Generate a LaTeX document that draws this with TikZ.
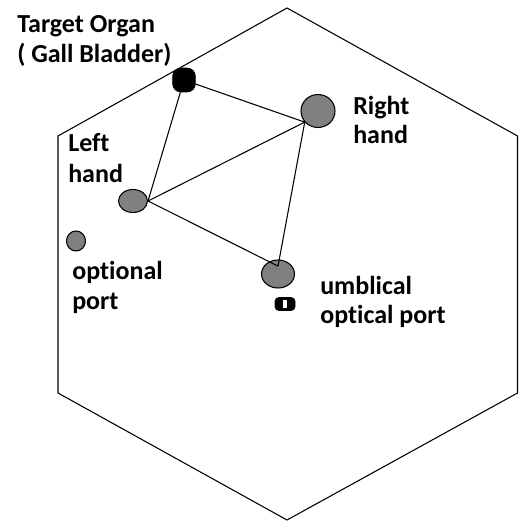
\documentclass[tikz,border=0pt]{standalone}
\usepackage{fontspec}
\setmainfont[RawFeature={-liga}]{Carlito}
\usetikzlibrary{shapes.geometric}
\definecolor{portgray}{RGB}{128,128,128}
\begin{document}
\begin{tikzpicture}[x=0.75pt,y=-0.75pt,
  port/.style={ellipse,draw=black,fill=portgray,line width=0.8pt,inner sep=0pt},
  lbl/.style={font=\fontsize{19.5}{22.5}\selectfont\bfseries,text=black,inner sep=0pt,anchor=base west},
  link/.style={line width=0.8pt,draw=black},
  wall/.style={line width=0.8pt,draw=black}]
\useasboundingbox (0,0) rectangle (519,527);
% abdomen outline
\draw[wall] (287,8) -- (517.5,136) -- (517.5,393) -- (287,520) -- (58,393) -- (58,136) -- cycle;
% ports
\node[draw=black,fill=black,rounded corners=6pt,minimum width=17pt,minimum height=18pt,inner sep=0pt] (blk) at (184,80) {};
\node[port,minimum width=25.5pt,minimum height=24.75pt] (rh) at (318,111) {};
\node[port,minimum width=21.75pt,minimum height=17.25pt] (lh) at (133,201) {};
\node[port,minimum width=14.25pt,minimum height=15pt] (op) at (76,241) {};
\node[port,minimum width=24.75pt,minimum height=21pt] (um) at (278,274) {};
\node[draw=black,fill=black,rounded corners=3pt,minimum width=15pt,minimum height=9.75pt,inner sep=0pt,line width=0.6pt] (cam) at (285,304) {};
\node[fill=white,minimum width=3pt,minimum height=6.5pt,inner sep=0pt] (camslot) at (cam.center) {};
% connection points
\coordinate (rhp) at (rh.220);
\coordinate (lhp) at (lh.east);
\coordinate (ump) at ([yshift=-5pt]um.north);
% connectors
\draw[link] (blk) -- (lhp);
\draw[link] (blk) -- (rhp);
\draw[link] (lhp) -- (rhp);
\draw[link] (lhp) -- (ump);
\draw[link] (rhp) -- (ump);
% labels
\node[lbl] (tgt1) at (17,33) {Target Organ};
\node[lbl] (tgt2) at (17,63) {( Gall Bladder)};
\node[lbl] (rht1) at (353,115) {Right};
\node[lbl] (rht2) at (353,144) {hand};
\node[lbl] (lht1) at (68,152) {Left};
\node[lbl] (lht2) at (68,182) {hand};
\node[lbl] (opt1) at (72,279) {optional};
\node[lbl] (opt2) at (72,309) {port};
\node[lbl] (umt1) at (320,294) {umblical};
\node[lbl] (umt2) at (320,323) {optical port};
\end{tikzpicture}
\end{document}
